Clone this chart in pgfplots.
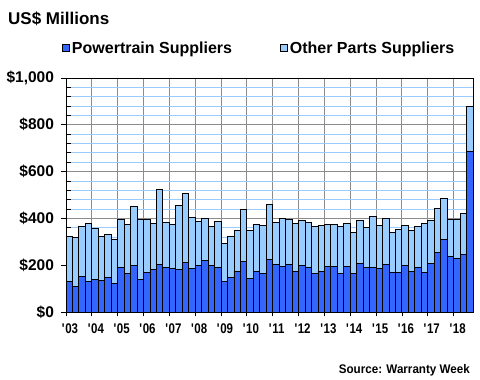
\documentclass[border=0pt]{standalone}
\usepackage{fontspec}
\setmainfont{Liberation Sans}
\newfontfamily\narrowsans{Liberation Sans}[FakeStretch=0.82]
\newfontfamily\srcsans{Liberation Sans}[FakeStretch=0.93]
\usepackage{pgfplots}
\pgfplotsset{compat=1.18}
\usepackage{pgfplotstable}
\definecolor{ptblue}{HTML}{3366FF}
\definecolor{oplight}{HTML}{99CCFF}
\definecolor{gridgray}{HTML}{8C8C8C}

\pgfplotstableread{
x pt other
0 132 190
1 110 208
2 152 214
3 132 247
4 140 216
5 135 188
6 148 184
7 122 189
8 191 205
9 165 210
10 199 253
11 140 256
12 170 226
13 182 197
14 204 320
15 191 192
16 187 185
17 182 274
18 212 295
19 187 218
20 199 188
21 221 178
22 199 167
23 191 196
24 131 160
25 148 175
26 174 175
27 217 222
28 144 205
29 174 201
30 165 205
31 225 235
32 204 179
33 195 205
34 204 192
35 174 205
36 199 193
37 191 192
38 165 201
39 174 196
40 195 180
41 195 180
42 165 201
43 195 184
44 165 175
45 208 184
46 191 171
47 191 218
48 187 183
49 204 196
50 170 170
51 170 183
52 199 171
53 174 175
54 191 175
55 170 209
56 208 184
57 255 188
58 311 175
59 238 158
60 229 167
61 246 176
62 687 192
}\datatable

\begin{document}
\begin{tikzpicture}
\useasboundingbox (0,0) rectangle (480pt,380pt);
\begin{axis}[
  at={(66pt,68pt)}, anchor=south west,
  scale only axis, width=407pt, height=234pt,
  ybar stacked, bar width=1,
  xmin=-0.5, xmax=62.5, ymin=0, ymax=1000,
  enlarge x limits=false, enlarge y limits=false,
  axis line style={black, line width=0.9pt},
  xtick={-0.5,3.5,...,59.5},
  xticklabels={\textquotesingle03,\textquotesingle04,\textquotesingle05,\textquotesingle06,\textquotesingle07,\textquotesingle08,\textquotesingle09,\textquotesingle10,\textquotesingle11,\textquotesingle12,\textquotesingle13,\textquotesingle14,\textquotesingle15,\textquotesingle16,\textquotesingle17,\textquotesingle18},
  xticklabel style={font=\narrowsans\bfseries\fontsize{14}{14}\selectfont, xshift=4pt, yshift=-4pt},
  ytick={0,200,400,600,800,1000},
  yticklabels={{\$0},{\$200},{\$400},{\$600},{\$800},{\$1,000}},
  yticklabel style={font=\bfseries\fontsize{15.5}{15.5}\selectfont, xshift=-4pt},
  minor y tick num=4,
  xtick pos=bottom, ytick pos=left,
  tick align=outside,
  major tick length=4.5pt, minor tick length=5pt,
  every tick/.style={black, line width=0.8pt},
  minor y tick style={xshift=5pt, black, line width=0.8pt},
  xmajorgrids, ymajorgrids, yminorgrids,
  major grid style={gridgray, line width=0.9pt},
  minor grid style={oplight, line width=0.9pt},
  legend style={draw=none, fill=none, legend columns=2,
    at={(axis description cs:0,1)}, anchor=west, xshift=-4pt, yshift=30pt,
    inner sep=0pt, font=\bfseries\fontsize{16}{16}\selectfont,
    /tikz/every even column/.append style={column sep=46pt}},
]
\addplot+[fill=ptblue, draw=black, line width=0.9pt,
  legend image code/.code={\draw[fill=ptblue, draw=black, line width=0.8pt] (0pt,-3.5pt) rectangle (7pt,3.5pt);}]
  table[x=x, y=pt] {\datatable};
\addplot+[fill=oplight, draw=black, line width=0.9pt,
  legend image code/.code={\draw[fill=oplight, draw=black, line width=0.8pt] (0pt,-3.5pt) rectangle (7pt,3.5pt);}]
  table[x=x, y=other] {\datatable};
\legend{Powertrain Suppliers, Other Parts Suppliers}
\end{axis}
\node[anchor=base west, inner sep=0pt, font=\bfseries\fontsize{17}{17}\selectfont] at (8pt,355pt) {US\$ Millions};
\node[anchor=base east, inner sep=0pt, font=\srcsans\bfseries\fontsize{12.5}{12.5}\selectfont] at (470pt,6pt) {Source: Warranty Week};
\end{tikzpicture}
\end{document}
